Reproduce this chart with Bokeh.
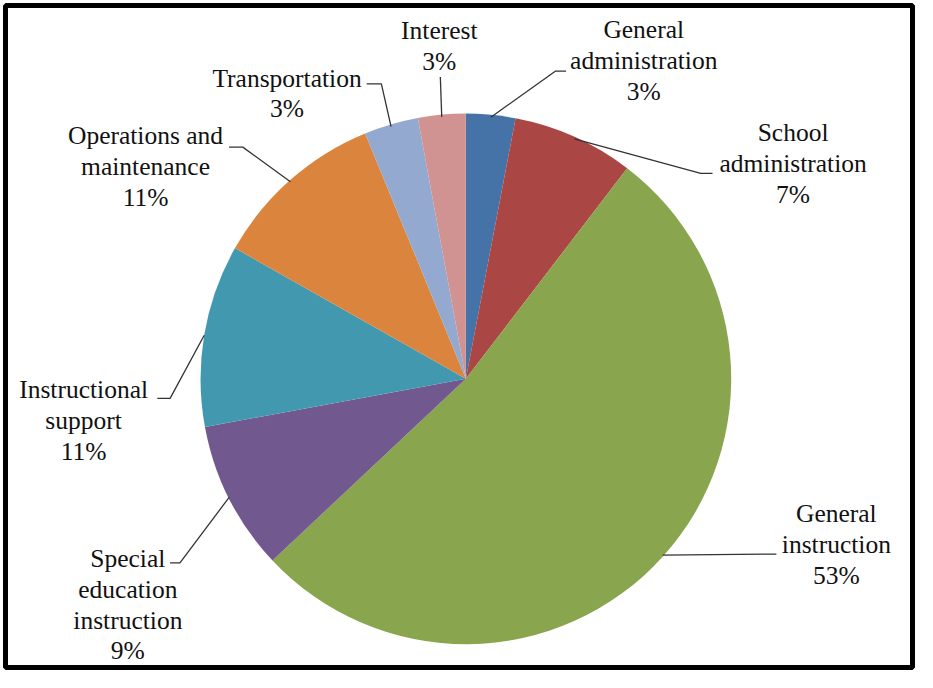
import math
from bokeh.plotting import figure
from bokeh.models import Range1d, ColumnDataSource
from bokeh.core.properties import value
from bokeh.embed import file_html
from bokeh.resources import INLINE

# ---- data ----
categories = ["General\nadministration", "School\nadministration", "General\ninstruction",
              "Special\neducation\ninstruction", "Instructional\nsupport",
              "Operations and\nmaintenance", "Transportation", "Interest"]
shares = [3.0, 7.4, 52.6, 9.1, 11.1, 10.6, 3.3, 2.9]
colors = ["#4572A7", "#AA4643", "#89A54E", "#71588F", "#4198AF", "#DB843D", "#93A9CF", "#D19392"]

# ---- layout (reference pixel coordinates) ----
W, H = 917, 672
REF_H = 688
cx, cy_ref, R = 474, 388, 270
label_pos = [(655, 61), (807, 167), (851, 558), (130, 620), (85, 431), (148, 170), (292, 95), (447, 46)]
elbows = [[(565, 72), (576, 72)], [(713, 177), (725, 177)], [(790, 568)], [(183, 577), (173, 577)],
          [(173, 408), (160, 408)], [(247, 150), (233, 150)], [(388, 85), (373, 85)], [(448, 78)]]

def fy(ref_y):
    return REF_H - ref_y

total = sum(shares)
cum = [0.0]
for s in shares:
    cum.append(cum[-1] + s / total)
start = [math.pi / 2 - 2 * math.pi * c for c in cum[:-1]]
end = [math.pi / 2 - 2 * math.pi * c for c in cum[1:]]
cy = fy(cy_ref)

p = figure(width=W, height=H, output_backend="svg", toolbar_location=None,
           x_range=Range1d(5.5, 928.5), y_range=Range1d(fy(684.5), fy(4.5)),
           min_border_left=5, min_border_right=5, min_border_top=5, min_border_bottom=5,
           border_fill_color="white", background_fill_color="white")
p.axis.visible = False
p.grid.visible = False
p.outline_line_color = "black"
p.outline_line_width = 5

src = ColumnDataSource(dict(start=start, end=end, color=colors))
p.wedge(x=cx, y=cy, radius=R, start_angle="start", end_angle="end", direction="clock",
        fill_color="color", line_color=None, source=src)

# leader lines
xs, ys = [], []
for i in range(len(shares)):
    mid = (cum[i] + cum[i + 1]) / 2 * 2 * math.pi
    sx = cx + R * math.sin(mid)
    sy = cy + R * math.cos(mid)
    xs.append([sx] + [pt[0] for pt in elbows[i]])
    ys.append([sy] + [fy(pt[1]) for pt in elbows[i]])
p.multi_line(xs=xs, ys=ys, line_color="#333333", line_width=1.3)

labels = [f"{c}\n{round(s)}%" for c, s in zip(categories, shares)]
p.text(x=[lp[0] for lp in label_pos], y=[fy(lp[1]) for lp in label_pos], text=labels,
       text_align="center", text_baseline="middle",
       text_font=value("'Liberation Serif', 'Times New Roman', serif"),
       text_font_size="25.5px", text_line_height=1.06, text_color="#111111")

open("out.html", "w").write(file_html(p, INLINE))
